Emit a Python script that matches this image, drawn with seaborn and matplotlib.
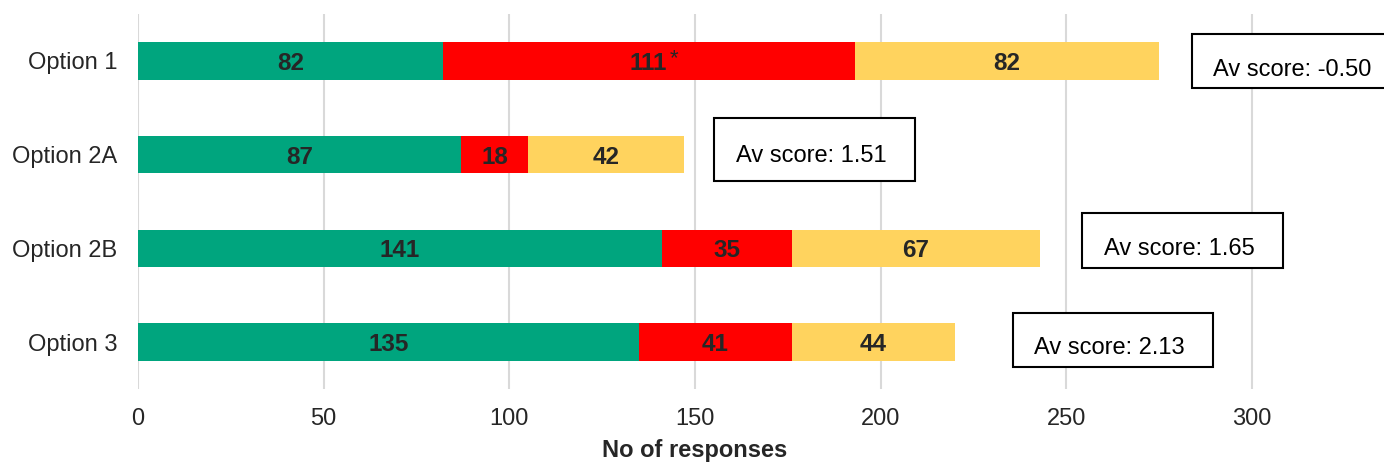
import matplotlib
matplotlib.use("Agg")
import matplotlib.pyplot as plt
import seaborn as sns
import pandas as pd
from matplotlib.patches import Rectangle

# Responses per option, split by answer type
categories = ["Option 1", "Option 2A", "Option 2B", "Option 3"]
support = [82, 87, 141, 135]
oppose = [111, 18, 35, 41]
neutral = [82, 42, 67, 44]
av_scores = [-0.50, 1.51, 1.65, 2.13]
x_ticks = [0, 50, 100, 150, 200, 250, 300]

GREEN = "#00A57E"
RED = "#FF0000"
YELLOW = "#FFD35E"
TEXT = "#262626"

sns.set_theme(style="white")
plt.rcParams["font.family"] = ["Liberation Sans", "DejaVu Sans"]

df = pd.DataFrame({
    "option": categories,
    "support": support,
    "oppose": oppose,
    "neutral": neutral,
})
df["to_oppose"] = df["support"] + df["oppose"]
df["total"] = df["to_oppose"] + df["neutral"]

fig = plt.figure(figsize=(13.84, 4.63), dpi=100)
ax = fig.add_axes([138 / 1384, 1 - 389 / 463, 1 - 138 / 1384, 375 / 463])

# Stacked bars: draw cumulative totals back to front
for col, color in [("total", YELLOW), ("to_oppose", RED), ("support", GREEN)]:
    sns.barplot(data=df, x=col, y="option", orient="h", color=color,
                width=0.4, saturation=1, linewidth=0, ax=ax, zorder=3)

# Segment labels
for i, row in df.iterrows():
    segs = [(0, row["support"]), (row["support"], row["oppose"]),
            (row["to_oppose"], row["neutral"])]
    for start, val in segs:
        cx = start + val / 2
        ax.text(cx, i, f"{val}", ha="center", va="center_baseline",
                fontsize=17.5, fontweight="bold", color=TEXT, zorder=5)

# Asterisk next to the Option 1 oppose count
ax.annotate("*", xy=(support[0] + oppose[0] / 2, 0), xytext=(21, 2),
            textcoords="offset pixels", ha="left", va="center",
            fontsize=16, color=TEXT, zorder=5)

# Average score boxes: (x0, x1, y0, y1, text x, text y) in data units
boxes = [
    (283.9, 336.5, -0.282, 0.293, 289.5, 0.10),
    (155.0, 209.3, 0.613, 1.284, 160.9, 1.01),
    (254.3, 308.3, 1.625, 2.211, 260.2, 2.01),
    (235.7, 289.5, 2.691, 3.267, 241.3, 3.065),
]
for score, (x0, x1, y0, y1, tx, ty) in zip(av_scores, boxes):
    ax.add_patch(Rectangle((x0, y0), x1 - x0, y1 - y0, facecolor="white",
                           edgecolor="black", linewidth=1.5, zorder=6,
                           clip_on=False))
    ax.text(tx, ty, f"Av score: {score:.2f}", ha="left", va="center",
            fontsize=17, color="black", zorder=7, clip_on=False)

ax.set_xlim(0, 335.5)
ax.set_ylim(3.5, -0.5)
ax.set_xticks(x_ticks)
ax.set_xticklabels([str(t) for t in x_ticks])
ax.grid(axis="x", color="#d9d9d9", linewidth=1.5, zorder=0)
ax.grid(axis="y", visible=False)
for s in ax.spines.values():
    s.set_visible(False)
ax.tick_params(axis="both", length=0, labelsize=17, colors=TEXT)
ax.tick_params(axis="y", pad=15)
ax.tick_params(axis="x", pad=14)
ax.set_ylabel("")
ax.set_xlabel("No of responses", fontsize=17, fontweight="bold", color=TEXT)
ax.xaxis.set_label_coords(150 / 335.5, -0.132)

fig.savefig("out.png", dpi=100)
